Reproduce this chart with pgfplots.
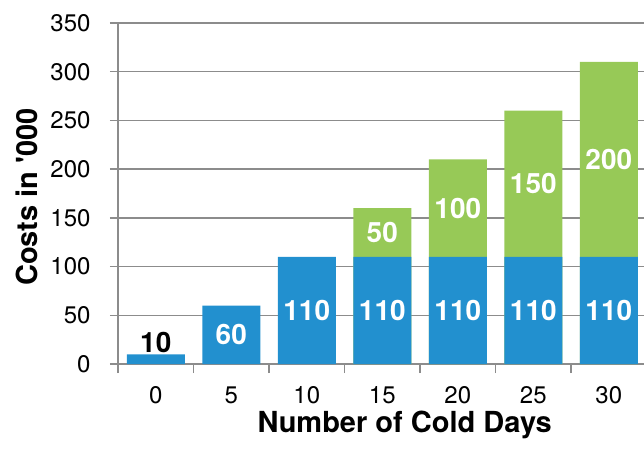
\documentclass[border=0pt]{standalone}
\usepackage{pgfplots}
\pgfplotsset{compat=1.18}
\usepackage{fontspec}
\setmainfont{TeX Gyre Heros}
\definecolor{barblue}{HTML}{2290CF}
\definecolor{bargreen}{HTML}{97C957}
\definecolor{gridgray}{HTML}{8C8C8C}
\newcommand{\tlfont}{\fontsize{24}{28}\selectfont}
\begin{document}
\begin{tikzpicture}[x=1pt,y=1pt]
\useasboundingbox (0,0) rectangle (644,453);
\clip (0,0) rectangle (644,453);
\begin{axis}[
  at={(118pt,89pt)}, anchor=south west,
  scale only axis, width=526pt, height=341pt,
  xmin=-2.5, xmax=32.33, ymin=0, ymax=350,
  axis x line*=bottom, axis y line*=left,
  axis line style={gridgray, line width=1.5pt, -},
  ytick={0,50,...,350},
  xtick={0,5,...,30},
  minor xtick={-2.5,2.5,...,27.5},
  tick align=outside,
  major tick length=8pt, minor tick length=9pt,
  major x tick style={draw=none},
  minor x tick style={gridgray, line width=1.5pt},
  y tick style={gridgray, line width=1.5pt},
  ymajorgrids, major grid style={gridgray, line width=1.5pt},
  xticklabel={\pgfmathtruncatemacro{\tv}{\tick}\tlfont\tv},
  yticklabel={\pgfmathtruncatemacro{\tv}{\tick}\tlfont\tv},
  tick label style={font=\tlfont, text=black},
  xticklabel style={yshift=-11pt},
  yticklabel style={xshift=-16pt},
  xlabel={Number of Cold Days},
  xlabel style={font=\bfseries\fontsize{29}{33}\selectfont, at={(axis description cs:0.545,-0.202)}, anchor=base},
  ylabel={Costs in \textquotesingle 000},
  ylabel style={font=\bfseries\fontsize{29}{33}\selectfont, at={(axis description cs:-0.173,0.49)}, anchor=center},
]
\addplot[ybar, bar width=58pt, bar shift=0pt, fill=bargreen, draw=none] coordinates {(15,160) (20,210) (25,260) (30,310)};
\addplot[ybar, bar width=58pt, bar shift=0pt, fill=barblue, draw=none] coordinates {(0,10) (5,60) (10,110) (15,110) (20,110) (25,110) (30,110)};
\addplot[draw=none, mark=none, nodes near coords, point meta=explicit symbolic,
  every node near coord/.append style={font=\bfseries\fontsize{28}{32}\selectfont, text=white, anchor=center}]
  coordinates {(5,30) [60] (10,55) [110] (15,55) [110] (20,55) [110] (25,55) [110] (30,55) [110]
               (15,135) [50] (20,160) [100] (25,185) [150] (30,210) [200]};
\addplot[draw=none, mark=none, nodes near coords, point meta=explicit symbolic,
  every node near coord/.append style={font=\bfseries\fontsize{28}{32}\selectfont, text=black, anchor=south, inner sep=1pt}]
  coordinates {(0,10) [10]};
\end{axis}
\end{tikzpicture}
\end{document}
